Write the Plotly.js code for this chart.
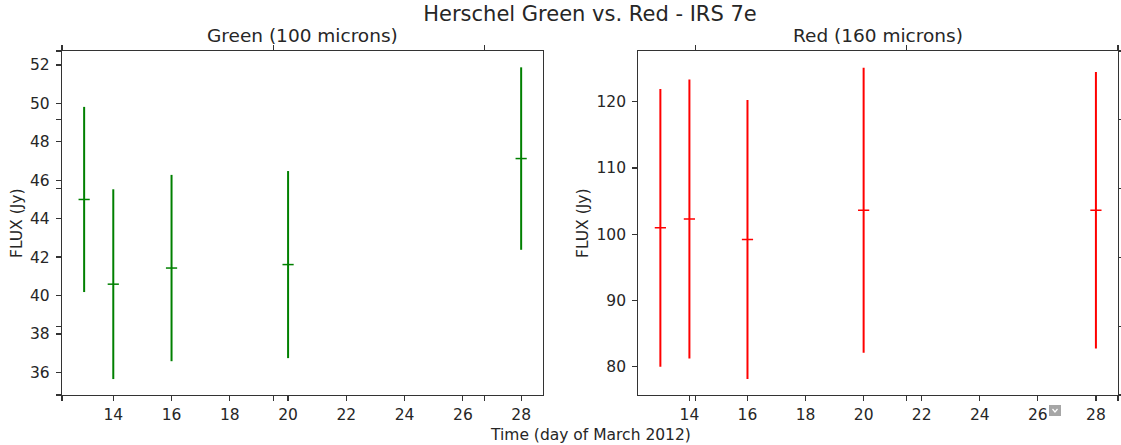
<!DOCTYPE html>
<html>
<head>
<meta charset="utf-8">
<script src="https://cdn.plot.ly/plotly-3.0.1.min.js"></script>
<style>html,body{margin:0;padding:0;background:#fff;}#chart{width:1121px;height:445px;}</style>
</head>
<body>
<div id="chart"></div>
<script>
// ---- data ----
const days = [13, 14, 16, 20, 28];
const greenFlux = [45.0, 40.59, 41.43, 41.61, 47.13];
const greenErr = [4.82, 4.94, 4.85, 4.87, 4.75];
const redFlux = [100.96, 102.3, 99.2, 103.62, 103.6];
const redErr = [20.96, 21.06, 21.06, 21.5, 20.87];
const xTicks = [14, 16, 18, 20, 22, 24, 26, 28];
const greenTicks = [36, 38, 40, 42, 44, 46, 48, 50, 52];
const redTicks = [80, 90, 100, 110, 120];
const ghostTicks = [0, 0.2, 0.4, 0.6, 0.8, 1.0];

const W = 1121, H = 445;
const px = v => v / W;
const py = v => 1 - v / H;
const FONT = 'DejaVu Sans';
const TXT = '#262626';
const AX = '#333333';

function errTrace(y, err, color, xa, ya) {
  return {
    type: 'scatter', mode: 'markers', x: days, y: y,
    xaxis: xa, yaxis: ya,
    marker: {symbol: 'line-ew', size: 8, color: color, line: {color: color, width: 1.5}},
    error_y: {type: 'data', array: err, visible: true, width: 0, thickness: 2, color: color},
    hoverinfo: 'x+y', showlegend: false
  };
}

const data = [
  errTrace(greenFlux, greenErr, '#008000', 'x', 'y'),
  errTrace(redFlux, redErr, '#ff0000', 'x2', 'y2'),
  {type: 'scatter', mode: 'markers', x: [], y: [], xaxis: 'x3', yaxis: 'y3', showlegend: false, hoverinfo: 'skip'}
];

const yDom = [py(395), py(51)];
const xCommon = {
  range: [12.24, 28.75], tickmode: 'array', tickvals: xTicks,
  ticks: 'outside', ticklen: 5, tickwidth: 1.2, tickcolor: AX,
  showline: true, linecolor: AX, linewidth: 1.2, mirror: true,
  showgrid: false, zeroline: false,
  tickfont: {family: FONT, size: 15.5, color: TXT}
};
const yCommon = {
  ticks: 'outside', ticklen: 5, tickwidth: 1.2, tickcolor: AX,
  showline: true, linecolor: AX, linewidth: 1.2, mirror: true,
  showgrid: false, zeroline: false, ticklabelstandoff: 3,
  tickfont: {family: FONT, size: 15.5, color: TXT}, domain: yDom
};

const layout = {
  width: W, height: H,
  margin: {l: 0, r: 0, t: 0, b: 0},
  paper_bgcolor: '#ffffff', plot_bgcolor: 'rgba(0,0,0,0)',
  showlegend: false,
  title: {text: 'Herschel Green vs. Red - IRS 7e', x: px(590), xanchor: 'center', y: py(14), yanchor: 'middle',
          font: {family: FONT, size: 21, color: TXT}},
  xaxis: Object.assign({}, xCommon, {domain: [px(62), px(543)], anchor: 'y'}),
  yaxis: Object.assign({}, yCommon, {range: [34.82, 52.73], tickmode: 'array', tickvals: greenTicks, anchor: 'x'}),
  xaxis2: Object.assign({}, xCommon, {domain: [px(638.3), px(1117.7)], anchor: 'y2'}),
  yaxis2: Object.assign({}, yCommon, {range: [75.73, 127.65], tickmode: 'array', tickvals: redTicks, anchor: 'x2'}),
  xaxis3: {domain: [px(62), px(1118)], range: [0, 1], anchor: 'y3', tickmode: 'array', tickvals: ghostTicks,
           ticks: 'outside', ticklen: 5, tickwidth: 1.2, tickcolor: AX, mirror: 'ticks', showline: false,
           showticklabels: false, showgrid: false, zeroline: false, fixedrange: true},
  yaxis3: {domain: yDom, range: [0, 1], anchor: 'x3', tickmode: 'array', tickvals: ghostTicks,
           ticks: 'outside', ticklen: 5, tickwidth: 1.2, tickcolor: AX, mirror: 'ticks', showline: false,
           showticklabels: false, showgrid: false, zeroline: false, fixedrange: true},
  annotations: [
    {text: 'Green (100 microns)', xref: 'paper', yref: 'paper', x: px(302.5), y: py(36), xanchor: 'center', yanchor: 'middle', showarrow: false, font: {family: FONT, size: 18.5, color: TXT}},
    {text: 'Red (160 microns)', xref: 'paper', yref: 'paper', x: px(878), y: py(36), xanchor: 'center', yanchor: 'middle', showarrow: false, font: {family: FONT, size: 18.5, color: TXT}},
    {text: 'FLUX (Jy)', xref: 'paper', yref: 'paper', x: px(17), y: py(223), xanchor: 'center', yanchor: 'middle', textangle: -90, showarrow: false, font: {family: FONT, size: 15.5, color: TXT}},
    {text: 'FLUX (Jy)', xref: 'paper', yref: 'paper', x: px(583), y: py(223), xanchor: 'center', yanchor: 'middle', textangle: -90, showarrow: false, font: {family: FONT, size: 15.5, color: TXT}},
    {text: 'Time (day of March 2012)', xref: 'paper', yref: 'paper', x: px(590), y: py(435), xanchor: 'center', yanchor: 'middle', showarrow: false, font: {family: FONT, size: 15.5, color: TXT}}
  ],
  shapes: [
    {type: 'rect', xref: 'paper', yref: 'paper', x0: px(1049), x1: px(1061), y0: py(416), y1: py(405), fillcolor: '#a6a6a6', line: {width: 0}, layer: 'above'},
    {type: 'path', xref: 'paper', yref: 'paper', path: `M ${px(1052.5)} ${py(409)} L ${px(1055)} ${py(412)} L ${px(1057.5)} ${py(409)}`, line: {color: '#ffffff', width: 1.2}, layer: 'above'}
  ]
};

Plotly.newPlot('chart', data, layout, {displayModeBar: false, staticPlot: true});
</script>
</body>
</html>
